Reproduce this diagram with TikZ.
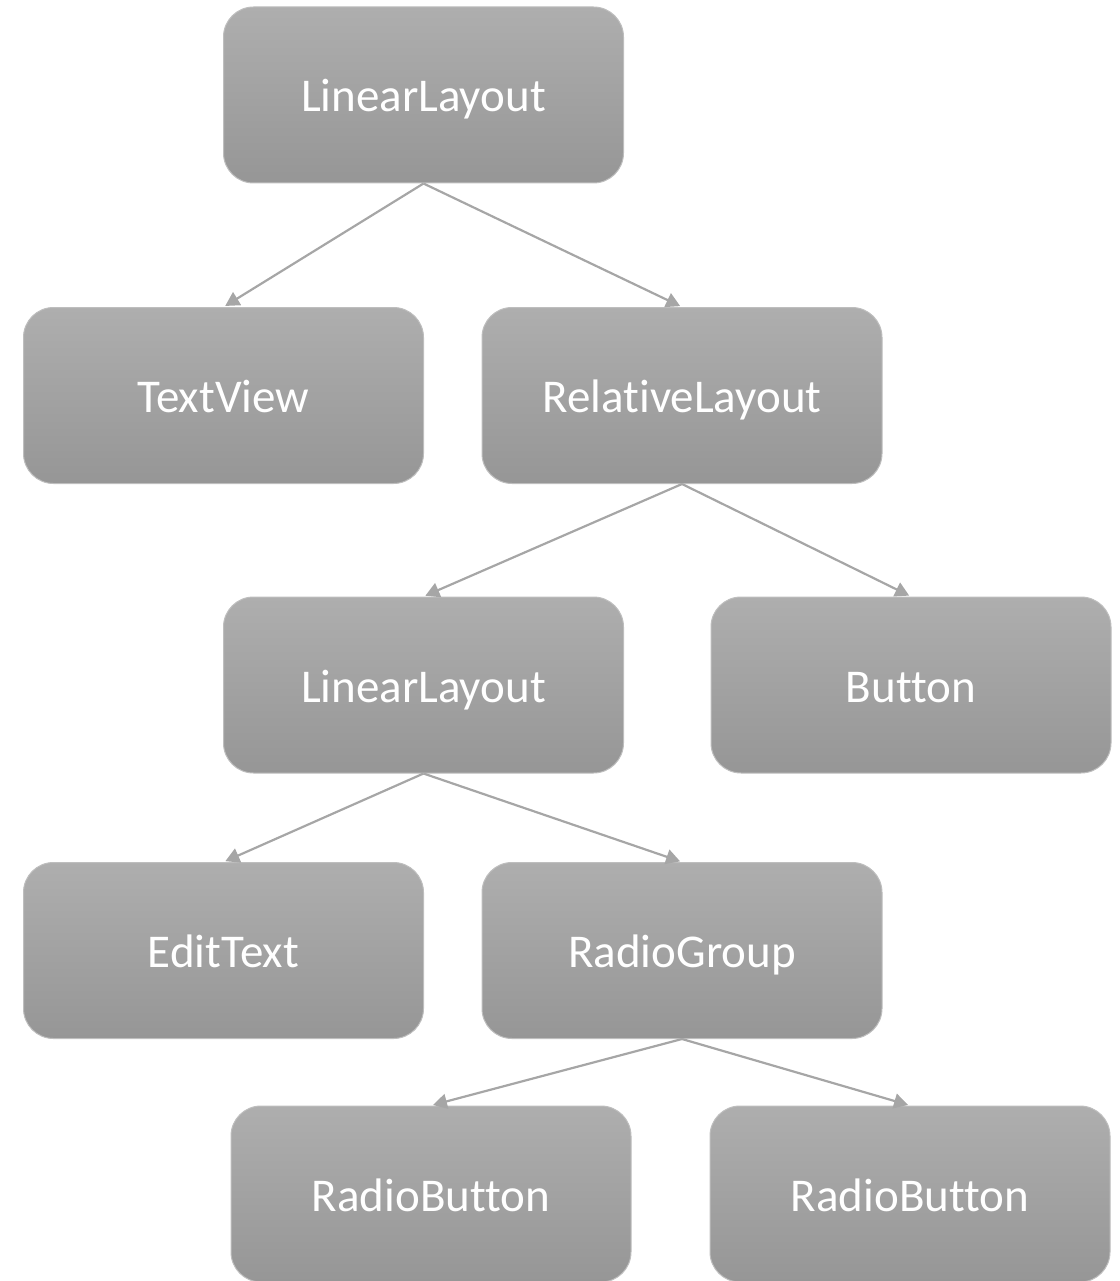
\documentclass[tikz,border=0pt]{standalone}
\usepackage{fontspec}
\setmainfont[Ligatures={NoCommon}]{Carlito}
\usetikzlibrary{arrows.meta}
\definecolor{boxtop}{RGB}{174,174,174}
\definecolor{boxbot}{RGB}{150,150,150}
\definecolor{boxedge}{RGB}{190,190,190}
\definecolor{linkc}{RGB}{166,166,166}
\tikzset{
  box/.style={rectangle, rounded corners=30pt, minimum width=400pt, minimum height=176pt,
    top color=boxtop, bottom color=boxbot, draw=boxedge, line width=1pt,
    text=white, font=\fontsize{47}{54}\selectfont, inner sep=0pt,
    text height=34pt, text depth=0pt},
  link/.style={draw=linkc, line width=2.2pt, -{Triangle[length=14pt,width=15pt]}, shorten >=2pt}
}
\begin{document}
\begin{tikzpicture}[x=1pt,y=-1pt]
\clip (0,0) rectangle (1119,1281);
\useasboundingbox (0,0) rectangle (1119,1281);
\node[box] (ll1) at (423.5,95) {LinearLayout};
\node[box] (tv) at (223.5,395.5) {TextView};
\node[box] (rl) at (682,395.5) {RelativeLayout};
\node[box] (ll2) at (423.5,685) {LinearLayout};
\node[box] (bt) at (911,685) {Button};
\node[box] (et) at (223.5,950.5) {EditText};
\node[box] (rg) at (682,950.5) {RadioGroup};
\node[box] (rb1) at (431,1194) {RadioButton};
\node[box] (rb2) at (910,1194) {RadioButton};
\draw[link] (ll1.south) -- (tv.north);
\draw[link] (ll1.south) -- (rl.north);
\draw[link] (rl.south) -- (ll2.north);
\draw[link] (rl.south) -- (bt.north);
\draw[link] (ll2.south) -- (et.north);
\draw[link] (ll2.south) -- (rg.north);
\draw[link] (rg.south) -- (rb1.north);
\draw[link] (rg.south) -- (rb2.north);
\end{tikzpicture}
\end{document}
